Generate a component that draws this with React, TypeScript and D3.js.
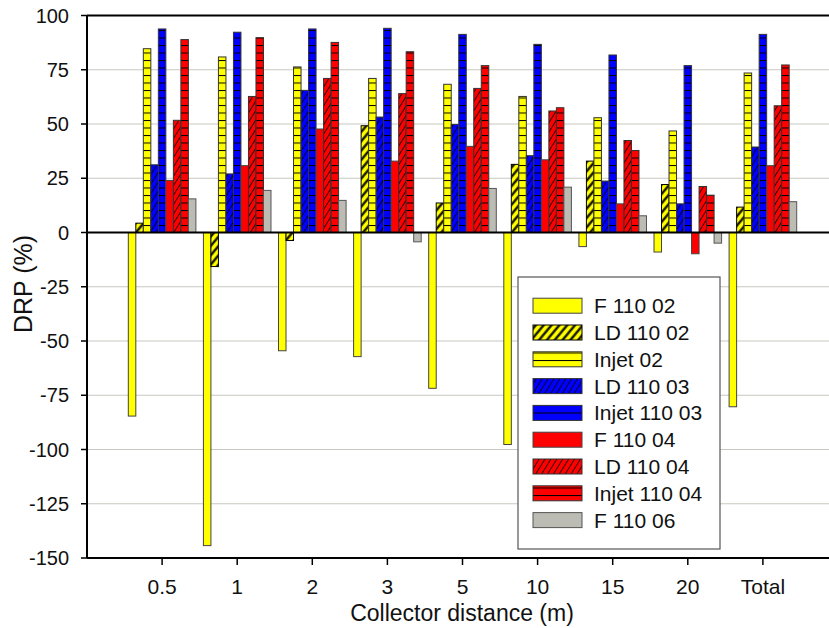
import React from "react";
import * as d3 from "d3";

// collector distance categories
const categories = ["0.5", "1", "2", "3", "5", "10", "15", "20", "Total"];
const yTicks = [100, 75, 50, 25, 0, -25, -50, -75, -100, -125, -150];

// DRP (%) per nozzle, one value per category
const f11002 = [-84.6, -144.3, -54.5, -57.2, -71.8, -97.7, -6.5, -9, -80.3];
const ld11002 = [4.3, -15.7, -3.7, 49.2, 13.6, 31.4, 32.9, 22.1, 11.7];
const injet02 = [84.7, 80.9, 76.3, 71, 68.3, 62.7, 52.9, 46.8, 73.5];
const ld11003 = [31.2, 27, 65.5, 53.2, 49.8, 35.4, 23.7, 13.2, 39.4];
const injet11003 = [93.8, 92.3, 93.8, 94.1, 91.3, 86.7, 81.8, 76.9, 91.3];
const f11004 = [24, 30.8, 47.7, 32.9, 39.7, 33.5, 13.2, -9.8, 30.8];
const ld11004 = [51.7, 62.7, 71, 64, 66.4, 56, 42.4, 21.2, 58.4];
const injet11004 = [88.9, 89.8, 87.6, 83.3, 76.9, 57.5, 37.8, 17.2, 77.2];
const f11006 = [15.5, 19.4, 14.8, -4.3, 20.3, 20.9, 7.7, -4.9, 14.2];

const seriesNames = [
  "F 110 02",
  "LD 110 02",
  "Injet 02",
  "LD 110 03",
  "Injet 110 03",
  "F 110 04",
  "LD 110 04",
  "Injet 110 04",
  "F 110 06",
];
const seriesValues = [f11002, ld11002, injet02, ld11003, injet11003, f11004, ld11004, injet11004, f11006];
// fill for each series (solid colour or a pattern id)
const seriesFill = [
  "#ffff00",
  "url(#ldYellow)",
  "url(#hzYellow)",
  "url(#ldBlue)",
  "url(#hzBlue)",
  "#ff0000",
  "url(#ldRed)",
  "url(#hzRed)",
  "#bcbcb4",
];
const seriesStroke = ["#444", "#000", "#333", "#333", "#333", "#444", "#333", "#333", "#555"];

const FONT = "'Liberation Sans', Arial, sans-serif";

const App = () => {
  const width = 829;
  const height = 628;
  const left = 87;
  const top = 15.5;
  const bottom = 558;

  // category centres at 1..9, domain padded like the original
  const x = d3.scaleLinear().domain([0, 10]).range([left, 838]);
  const step = x(1) - x(0);
  const inner = d3.scaleBand<string>().domain(seriesNames).range([-step * 0.45, step * 0.45]);
  const y = d3.scaleLinear().domain([-150, 100]).range([bottom, top]);
  const y0 = y(0);

  const hatch = 7.5;

  const legendX = 518;
  const legendY = 277;
  const rowH = 26.8;

  return (
    <svg
      width={width}
      height={height}
      style={{ position: "absolute", left: 0, top: 0, background: "#fff" }}
      fontFamily={FONT}
    >
      <defs>
        {/* horizontal line patterns, anchored on the zero line */}
        {[
          ["hzYellow", "#ffff00"],
          ["hzBlue", "#0000ff"],
          ["hzRed", "#ff0000"],
        ].map(([id, c]) => (
          <pattern key={id} id={id} patternUnits="userSpaceOnUse" x={0} y={y0} width={10} height={hatch}>
            <rect width={10} height={hatch} fill={c} />
            <line x1={0} x2={10} y1={0.5} y2={0.5} stroke="#000" strokeWidth={1} />
          </pattern>
        ))}
        {/* thick diagonal hatch on yellow */}
        <pattern id="ldYellow" patternUnits="userSpaceOnUse" width={6} height={6} patternTransform="rotate(40)">
          <rect width={6} height={6} fill="#ffff00" />
          <line x1={1.5} x2={1.5} y1={0} y2={6} stroke="#000" strokeWidth={2.2} />
        </pattern>
        {/* thin diagonal hatch on blue / red */}
        {[
          ["ldBlue", "#0000ff"],
          ["ldRed", "#ff0000"],
        ].map(([id, c]) => (
          <pattern key={id} id={id} patternUnits="userSpaceOnUse" width={5} height={5} patternTransform="rotate(32)">
            <rect width={5} height={5} fill={c} />
            <line x1={0.5} x2={0.5} y1={0} y2={5} stroke="#000" strokeWidth={0.8} />
          </pattern>
        ))}
      </defs>

      {/* gridlines */}
      {yTicks
        .filter((t) => t !== 100 && t !== 0 && t !== -150)
        .map((t) => (
          <line key={"g" + t} x1={left} x2={width} y1={y(t)} y2={y(t)} stroke="#c8c8c0" strokeWidth={1.2} />
        ))}

      {/* bars */}
      {seriesValues.map((vals, si) =>
        vals.map((v, ci) => {
          const bx = x(ci + 1) + (inner(seriesNames[si]) as number);
          const bw = inner.bandwidth();
          return (
            <rect
              key={si + "-" + ci}
              x={bx}
              y={Math.min(y(v), y0)}
              width={bw}
              height={Math.abs(y(v) - y0)}
              fill={seriesFill[si]}
              stroke={seriesStroke[si]}
              strokeWidth={1}
            />
          );
        })
      )}

      {/* zero line */}
      <line x1={left} x2={width} y1={y0} y2={y0} stroke="#000" strokeWidth={1.8} />

      {/* frame */}
      <line x1={left} x2={width} y1={top} y2={top} stroke="#000" strokeWidth={2} />
      <line x1={left} x2={width} y1={bottom} y2={bottom} stroke="#000" strokeWidth={2} />
      <line x1={left} x2={left} y1={top} y2={bottom} stroke="#000" strokeWidth={2} />

      {/* y axis ticks */}
      {yTicks.map((t) => (
        <g key={"yt" + t}>
          <line x1={left - 6} x2={left} y1={y(t)} y2={y(t)} stroke="#000" strokeWidth={1.5} />
          <text x={69} y={y(t)} dy="0.36em" textAnchor="end" fontSize={20} fill="#111">
            {t}
          </text>
        </g>
      ))}

      {/* x axis ticks */}
      {categories.map((c, i) => (
        <g key={"xt" + c}>
          <line x1={x(i + 1)} x2={x(i + 1)} y1={bottom} y2={bottom + 7} stroke="#000" strokeWidth={1.5} />
          <text x={x(i + 1)} y={594} textAnchor="middle" fontSize={21} fill="#111">
            {c}
          </text>
        </g>
      ))}

      {/* axis titles */}
      <text x={462} y={621} textAnchor="middle" fontSize={23} fill="#111">
        Collector distance (m)
      </text>
      <text
        transform={`translate(23, 284) rotate(-90)`}
        textAnchor="middle"
        dy="0.36em"
        fontSize={25}
        fill="#111"
      >
        DRP (%)
      </text>

      {/* legend */}
      <rect x={legendX} y={legendY} width={202} height={272} fill="#fff" stroke="#555" strokeWidth={1.2} />
      {seriesNames.map((name, i) => {
        const cy = legendY + 28.7 + i * rowH;
        return (
          <g key={"lg" + name}>
            <rect
              x={533}
              y={cy - 7.5}
              width={49}
              height={15}
              fill={seriesFill[i]}
              stroke={seriesStroke[i]}
              strokeWidth={1}
            />
            <text x={594} y={cy} dy="0.36em" fontSize={21} fill="#111">
              {name}
            </text>
          </g>
        );
      })}
    </svg>
  );
};

export default App;
